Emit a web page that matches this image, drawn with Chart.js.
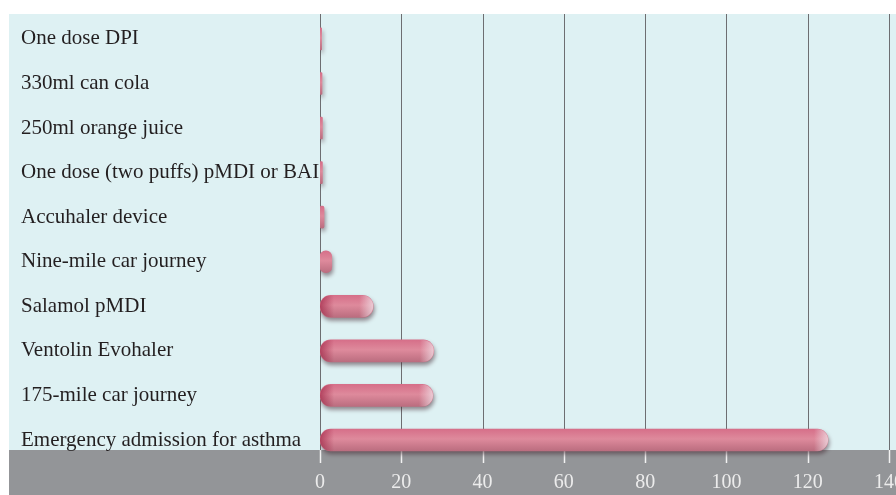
<!DOCTYPE html>
<html lang="en">
<head>
  <meta charset="UTF-8" />
  <title>Carbon footprint comparison</title>
  <script src="https://cdn.jsdelivr.net/npm/chart.js"></script>
  <style>
    body {
      margin: 0;
      padding: 0;
      background-color: #fff;
    }
    .wrap {
      width: 896px;
      height: 495px;
      position: relative;
    }
  </style>
</head>
<body>
  <div class="wrap">
    <canvas id="footprintChart"></canvas>
  </div>

  <script>
    const categories = [
      'One dose DPI',
      '330ml can cola',
      '250ml orange juice',
      'One dose (two puffs) pMDI or BAI',
      'Accuhaler device',
      'Nine-mile car journey',
      'Salamol pMDI',
      'Ventolin Evohaler',
      '175-mile car journey',
      'Emergency admission for asthma'
    ];
    const values = [0.4, 0.5, 0.6, 0.6, 1.0, 2.9, 13.1, 28, 27.8, 125];
    const xTicks = [0, 20, 40, 60, 80, 100, 120, 140];

    const BAR_H = 22;

    // panel colours behind the plot
    const backdrop = {
      id: 'backdrop',
      beforeDraw(chart) {
        const ctx = chart.ctx;
        ctx.save();
        ctx.fillStyle = '#fff';
        ctx.fillRect(0, 0, chart.width, chart.height);
        ctx.fillStyle = '#def1f3';
        ctx.fillRect(9, 14, chart.width - 9, 436);
        ctx.fillStyle = '#939598';
        ctx.fillRect(9, 450, chart.width - 9, chart.height - 450);
        ctx.restore();
      }
    };

    // grid lines, ticks and bar shadow / end shading
    const barStyle = {
      id: 'barStyle',
      beforeDatasetsDraw(chart) {
        const ctx = chart.ctx;
        const x = chart.scales.x;
        ctx.save();
        xTicks.forEach(v => {
          const px = Math.round(x.getPixelForValue(v)) + 0.5;
          ctx.strokeStyle = '#6d6e71';
          ctx.lineWidth = 1;
          ctx.beginPath();
          ctx.moveTo(px, 14);
          ctx.lineTo(px, 450);
          ctx.stroke();
          ctx.strokeStyle = '#f2f2f2';
          ctx.lineWidth = 1.5;
          ctx.beginPath();
          ctx.moveTo(px, 450);
          ctx.lineTo(px, 463);
          ctx.stroke();
        });
        ctx.restore();

        ctx.save();
        ctx.shadowColor = 'rgba(60, 30, 40, 0.5)';
        ctx.shadowBlur = 4;
        ctx.shadowOffsetX = 1;
        ctx.shadowOffsetY = 3;
      },
      afterDatasetsDraw(chart) {
        const ctx = chart.ctx;
        ctx.restore();
        chart.getDatasetMeta(0).data.forEach(bar => {
          const left = Math.min(bar.base, bar.x);
          const w = Math.abs(bar.x - bar.base);
          if (w < 24) return;
          const top = bar.y - BAR_H / 2;
          ctx.save();
          ctx.beginPath();
          ctx.roundRect(left, top, w, BAR_H, BAR_H / 2);
          ctx.clip();
          const g = ctx.createLinearGradient(left, 0, left + w, 0);
          const e = 14 / w;
          g.addColorStop(0, 'rgba(150, 20, 55, 0.6)');
          g.addColorStop(e, 'rgba(150, 20, 55, 0)');
          g.addColorStop(1 - e, 'rgba(240, 225, 232, 0)');
          g.addColorStop(1, 'rgba(240, 225, 232, 0.75)');
          ctx.fillStyle = g;
          ctx.fillRect(left, top, w, BAR_H);
          ctx.restore();
        });
      }
    };

    const ctx = document.getElementById('footprintChart').getContext('2d');

    new Chart(ctx, {
      type: 'bar',
      data: {
        labels: categories,
        datasets: [{
          data: values,
          barThickness: BAR_H,
          borderRadius: BAR_H / 2,
          borderSkipped: false,
          backgroundColor: c => {
            const ch = c.chart;
            const y = ch.scales.y;
            if (!ch.chartArea || !y) return '#dc8296';
            const yc = y.getPixelForValue(c.dataIndex);
            const g = ch.ctx.createLinearGradient(0, yc - BAR_H / 2, 0, yc + BAR_H / 2);
            g.addColorStop(0, '#d66f89');
            g.addColorStop(0.45, '#de8a9c');
            g.addColorStop(1, '#bb6d7f');
            return g;
          }
        }]
      },
      options: {
        indexAxis: 'y',
        responsive: true,
        maintainAspectRatio: false,
        animation: false,
        layout: {
          padding: { left: 21, right: 7, top: 15.7, bottom: 0 }
        },
        plugins: {
          legend: { display: false },
          tooltip: { enabled: false }
        },
        scales: {
          x: {
            min: 0,
            max: 140,
            grid: { display: false, drawTicks: false },
            border: { display: false },
            afterFit: s => {
              s.height = 32.7;
              s.paddingLeft = 0;
              s.paddingRight = 0;
            },
            ticks: {
              stepSize: 20,
              padding: 8,
              color: '#ececec',
              font: { family: '"Liberation Serif", serif', size: 20 }
            }
          },
          y: {
            grid: { display: false, drawTicks: false },
            border: { display: false },
            afterFit: s => { s.width = 299; },
            ticks: {
              crossAlign: 'far',
              padding: 4,
              color: '#231f20',
              font: { family: '"Liberation Serif", serif', size: 21 }
            }
          }
        }
      },
      plugins: [backdrop, barStyle]
    });
  </script>
</body>
</html>
